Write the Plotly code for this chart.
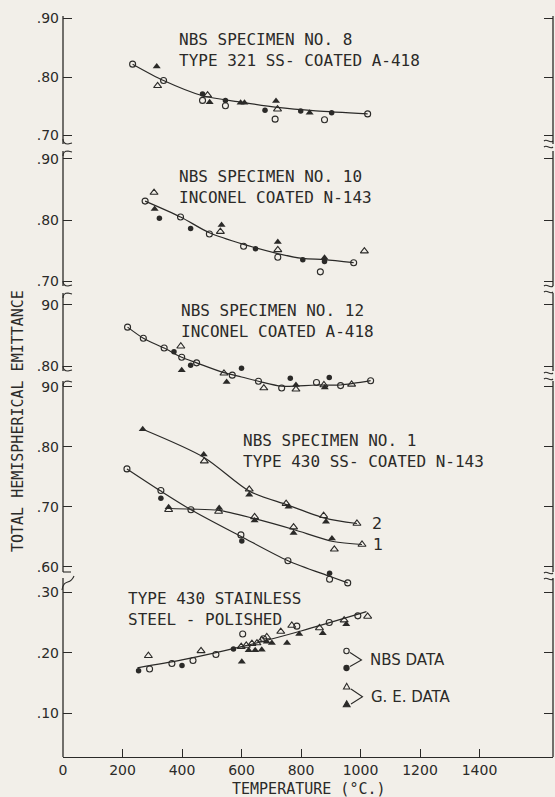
import plotly.graph_objects as go

INK = "#2b2a28"
BG = "#f2efe9"
MONO = "DejaVu Sans Mono"
SANS = "DejaVu Sans"

# ---------------- temperature axis ----------------
temp_ticks = [0, 200, 400, 600, 800, 1000, 1200, 1400]
temp_tick_text = ["0", "200", "400", "600", "800", "1000", "1200", "1400"]

# ---------------- NBS specimen No. 8 : Type 321 SS - coated A-418 ----------------
s8_nbs_open_t = [234, 338, 469, 546, 713, 879, 1024]
s8_nbs_open_e = [0.822, 0.794, 0.760, 0.751, 0.728, 0.727, 0.737]
s8_nbs_fill_t = [469, 546, 679, 799, 903]
s8_nbs_fill_e = [0.771, 0.760, 0.743, 0.742, 0.739]
s8_ge_open_t = [318, 486, 721]
s8_ge_open_e = [0.785, 0.769, 0.745]
s8_ge_fill_t = [315, 493, 597, 610, 716, 829]
s8_ge_fill_e = [0.818, 0.757, 0.756, 0.756, 0.759, 0.739]
s8_curve_t = [234, 338, 469, 600, 720, 850, 1024]
s8_curve_e = [0.822, 0.794, 0.768, 0.757, 0.748, 0.742, 0.737]

# ---------------- NBS specimen No. 10 : Inconel coated N-143 ----------------
s10_nbs_open_t = [276, 395, 492, 607, 722, 865, 977]
s10_nbs_open_e = [0.831, 0.805, 0.777, 0.757, 0.739, 0.715, 0.730]
s10_nbs_fill_t = [324, 429, 647, 806, 879]
s10_nbs_fill_e = [0.803, 0.786, 0.753, 0.735, 0.732]
s10_ge_open_t = [306, 529, 722, 1013]
s10_ge_open_e = [0.845, 0.781, 0.751, 0.749]
s10_ge_fill_t = [308, 533, 722, 879]
s10_ge_fill_e = [0.818, 0.792, 0.764, 0.738]
s10_curve_t = [276, 395, 492, 607, 722, 806, 879, 977]
s10_curve_e = [0.831, 0.805, 0.779, 0.760, 0.745, 0.737, 0.735, 0.730]

# ---------------- NBS specimen No. 12 : Inconel coated A-418 ----------------
s12_nbs_open_t = [217, 270, 340, 399, 449, 569, 657, 735, 852, 933, 1034]
s12_nbs_open_e = [0.864, 0.846, 0.830, 0.815, 0.806, 0.786, 0.776, 0.765, 0.774, 0.769, 0.777]
s12_nbs_fill_t = [373, 429, 600, 764, 895]
s12_nbs_fill_e = [0.824, 0.802, 0.797, 0.781, 0.782]
s12_ge_open_t = [396, 541, 675, 783, 877, 970]
s12_ge_open_e = [0.833, 0.789, 0.765, 0.763, 0.770, 0.771]
s12_ge_fill_t = [399, 550, 783, 880]
s12_ge_fill_e = [0.794, 0.775, 0.770, 0.766]
s12_curve_t = [217, 270, 340, 399, 449, 541, 600, 657, 735, 852, 933, 1034]
s12_curve_e = [0.864, 0.846, 0.830, 0.815, 0.806, 0.790, 0.783, 0.776, 0.768, 0.770, 0.770, 0.777]

# ---------------- NBS specimen No. 1 : Type 430 SS - coated N-143 ----------------
s1_nbs_open_t = [215, 329, 430, 598, 756, 896, 957]
s1_nbs_open_e = [0.763, 0.727, 0.695, 0.653, 0.610, 0.579, 0.573]
s1_nbs_fill_t = [329, 601, 896]
s1_nbs_fill_e = [0.714, 0.643, 0.589]
s1_ge_open_t = [475, 626, 750, 876, 988, 355, 523, 644, 775, 912, 1005]
s1_ge_open_e = [0.776, 0.729, 0.705, 0.685, 0.672, 0.695, 0.692, 0.683, 0.666, 0.629, 0.637]
s1_ge_fill_t = [268, 473, 626, 758, 884, 355, 525, 644, 775, 904]
s1_ge_fill_e = [0.829, 0.787, 0.720, 0.700, 0.675, 0.699, 0.698, 0.677, 0.656, 0.647]
s1_curve2_t = [268, 474, 626, 754, 880, 988]
s1_curve2_e = [0.829, 0.782, 0.726, 0.703, 0.681, 0.672]
s1_curve1_t = [355, 430, 524, 644, 775, 908, 1005]
s1_curve1_e = [0.697, 0.696, 0.694, 0.680, 0.662, 0.642, 0.637]
s1_nbs_curve_t = [215, 329, 430, 600, 756, 896, 957]
s1_nbs_curve_e = [0.763, 0.726, 0.695, 0.650, 0.610, 0.584, 0.573]

# ---------------- Type 430 stainless steel - polished ----------------
ss_nbs_open_t = [291, 366, 437, 514, 604, 674, 786, 895, 991]
ss_nbs_open_e = [0.173, 0.182, 0.187, 0.197, 0.231, 0.223, 0.244, 0.250, 0.261]
ss_nbs_fill_t = [254, 400, 573]
ss_nbs_fill_e = [0.170, 0.179, 0.206]
ss_ge_open_t = [287, 464, 599, 616, 635, 652, 668, 685, 732, 769, 862, 945, 1024]
ss_ge_open_e = [0.195, 0.203, 0.210, 0.212, 0.215, 0.216, 0.221, 0.226, 0.235, 0.245, 0.241, 0.254, 0.260]
ss_ge_fill_t = [601, 624, 646, 668, 685, 702, 753, 794, 873, 952]
ss_ge_fill_e = [0.185, 0.204, 0.204, 0.205, 0.218, 0.216, 0.216, 0.231, 0.232, 0.247]
ss_curve_t = [250, 400, 600, 800, 1020]
ss_curve_e = [0.175, 0.188, 0.210, 0.236, 0.268]

# ---------------- frame geometry (pixels) ----------------
FIG_W, FIG_H = 555, 797
L, R, T, B = 63, 553, 16, 757
W, H = R - L, B - T


def pp(px, py):
    """pixel position -> paper fraction"""
    return (px - L) / W, (B - py) / H


def dom(top, bottom):
    return [(B - bottom) / H, (B - top) / H]


# each panel: plotting domain, value range, and the drawn stretch of the frame ("seg")
panels = [
    dict(name="y", top=16, bottom=146, seg=(16, 144), rng=[0.6821, 0.9043],
         tv=[0.70, 0.80, 0.90], tt=[".70", ".80", ".90"],
         series=[(s8_nbs_open_t, s8_nbs_open_e, "no"), (s8_nbs_fill_t, s8_nbs_fill_e, "nf"),
                 (s8_ge_open_t, s8_ge_open_e, "go"), (s8_ge_fill_t, s8_ge_fill_e, "gf")],
         curves=[(s8_curve_t, s8_curve_e)],
         label="NBS SPECIMEN NO. 8<br>TYPE 321 SS- COATED A-418", lab_xy=(177, 50)),
    dict(name="y2", top=148, bottom=284, seg=(151, 286), rng=[0.6951, 0.9180],
         tv=[0.70, 0.80, 0.90], tt=[".70", ".80", ".90"],
         series=[(s10_nbs_open_t, s10_nbs_open_e, "no"), (s10_nbs_fill_t, s10_nbs_fill_e, "nf"),
                 (s10_ge_open_t, s10_ge_open_e, "go"), (s10_ge_fill_t, s10_ge_fill_e, "gf")],
         curves=[(s10_curve_t, s10_curve_e)],
         label="NBS SPECIMEN NO. 10<br>INCONEL COATED N-143", lab_xy=(177, 187)),
    dict(name="y3", top=288, bottom=392, seg=(293, 371), rng=[0.7586, 0.9276],
         tv=[0.80, 0.90], tt=[".80", "90"],
         series=[(s12_nbs_open_t, s12_nbs_open_e, "no"), (s12_nbs_fill_t, s12_nbs_fill_e, "nf"),
                 (s12_ge_open_t, s12_ge_open_e, "go"), (s12_ge_fill_t, s12_ge_fill_e, "gf")],
         curves=[(s12_curve_t, s12_curve_e)],
         label="NBS SPECIMEN NO. 12<br>INCONEL COATED A-418", lab_xy=(179, 321)),
    dict(name="y4", top=380, bottom=586, seg=(381, 572), rng=[0.5678, 0.9112],
         tv=[0.60, 0.70, 0.80, 0.90], tt=[".60", ".70", ".80", "90"],
         series=[(s1_nbs_open_t, s1_nbs_open_e, "no"), (s1_nbs_fill_t, s1_nbs_fill_e, "nf"),
                 (s1_ge_open_t, s1_ge_open_e, "go"), (s1_ge_fill_t, s1_ge_fill_e, "gf")],
         curves=[(s1_curve2_t, s1_curve2_e), (s1_curve1_t, s1_curve1_e),
                 (s1_nbs_curve_t, s1_nbs_curve_e)],
         label="NBS SPECIMEN NO. 1<br>TYPE 430 SS- COATED N-143", lab_xy=(241, 451)),
    dict(name="y5", top=576, bottom=757, seg=(578, 757), rng=[0.0273, 0.3270],
         tv=[0.10, 0.20, 0.30], tt=[".10", ".20", ".30"],
         series=[(ss_nbs_open_t, ss_nbs_open_e, "no"), (ss_nbs_fill_t, ss_nbs_fill_e, "nf"),
                 (ss_ge_open_t, ss_ge_open_e, "go"), (ss_ge_fill_t, ss_ge_fill_e, "gf")],
         curves=[(ss_curve_t, ss_curve_e)],
         label="TYPE 430 STAINLESS<br>STEEL - POLISHED", lab_xy=(126, 609)),
]

marker_styles = {
    "no": dict(symbol="circle-open", size=6, line=dict(width=1.1, color=INK), color=INK),
    "nf": dict(symbol="circle", size=5.5, color=INK, line=dict(width=0)),
    "go": dict(symbol="triangle-up-open", size=7, line=dict(width=1.1, color=INK), color=INK),
    "gf": dict(symbol="triangle-up", size=7, color=INK, line=dict(width=0)),
}

fig = go.Figure()
layout_axes = {}
annotations = []
shapes = []


def line_shape(p0, p1, width=1.3):
    x0, y0 = pp(*p0)
    x1, y1 = pp(*p1)
    return dict(type="line", xref="paper", yref="paper", x0=x0, y0=y0, x1=x1, y1=y1,
                line=dict(color=INK, width=width))


def path_shape(points, closed=False, fill=None, width=1.1):
    d = ""
    for i, (px, py) in enumerate(points):
        x, y = pp(px, py)
        d += ("M" if i == 0 else "L") + f"{x:.5f},{y:.5f} "
    if closed:
        d += "Z"
    s = dict(type="path", path=d, xref="paper", yref="paper",
             line=dict(color=INK, width=width))
    if fill:
        s["fillcolor"] = fill
    return s


def curve_shape(cmds, width=1.1):
    d = ""
    for op, pts in cmds:
        d += op + " ".join(f"{pp(a, b)[0]:.5f},{pp(a, b)[1]:.5f}" for a, b in pts) + " "
    return dict(type="path", path=d, xref="paper", yref="paper",
                line=dict(color=INK, width=width))


def circle_shape(cx, cy, r, filled):
    x0, y0 = pp(cx - r, cy + r)
    x1, y1 = pp(cx + r, cy - r)
    return dict(type="circle", xref="paper", yref="paper", x0=x0, y0=y0, x1=x1, y1=y1,
                line=dict(color=INK, width=1.1), fillcolor=INK if filled else BG)


for p in panels:
    for ct, ce in p["curves"]:
        fig.add_trace(go.Scatter(x=ct, y=ce, xaxis="x", yaxis=p["name"], mode="lines",
                                 line=dict(color=INK, width=1.2, shape="spline", smoothing=0.8),
                                 hoverinfo="skip", showlegend=False))
    for st, se, kind in p["series"]:
        fig.add_trace(go.Scatter(x=st, y=se, xaxis="x", yaxis=p["name"], mode="markers",
                                 marker=marker_styles[kind], cliponaxis=False, showlegend=False))
    key = "yaxis" if p["name"] == "y" else "yaxis" + p["name"][1:]
    layout_axes[key] = dict(
        domain=dom(p["top"], p["bottom"]), range=p["rng"], anchor="x",
        tickmode="array", tickvals=p["tv"], ticktext=p["tt"],
        ticks="inside", ticklen=9, tickwidth=1.2, tickcolor=INK,
        showline=False, mirror="ticks",
        showgrid=False, zeroline=False, ticklabelstandoff=3,
        tickfont=dict(family=SANS, size=14, color=INK),
    )
    # broken frame: left and right stretches for this panel
    st_top, st_bot = p["seg"]
    shapes.append(line_shape((L, st_top), (L, st_bot)))
    shapes.append(line_shape((R, st_top), (R, st_bot)))
    lx, ly = p["lab_xy"]
    ax, ay = pp(lx, ly)
    annotations.append(dict(text=p["label"], x=ax, y=ay, xref="paper", yref="paper",
                            xanchor="left", yanchor="middle", align="left", showarrow=False,
                            font=dict(family=MONO, size=16, color=INK)))

# curve numbers for specimen No. 1
for txt, (cx, cy) in [("2", (377, 523)), ("1", (378, 544))]:
    ax, ay = pp(cx, cy)
    annotations.append(dict(text=txt, x=ax, y=ay, xref="paper", yref="paper",
                            xanchor="center", yanchor="middle", showarrow=False,
                            font=dict(family=SANS, size=16, color=INK)))

# axis titles
ax, ay = pp(18, 421)
annotations.append(dict(text="TOTAL HEMISPHERICAL EMITTANCE", x=ax, y=ay, xref="paper", yref="paper",
                        textangle=-90, showarrow=False, xanchor="center", yanchor="middle",
                        font=dict(family=MONO, size=15, color=INK)))
ax, ay = pp(309, 789)
annotations.append(dict(text="TEMPERATURE (°C.)", x=ax, y=ay, xref="paper", yref="paper",
                        showarrow=False, xanchor="center", yanchor="middle",
                        font=dict(family=MONO, size=15, color=INK)))

# legend text
for txt, (lx, ly) in [("NBS DATA", (368, 660)), ("G. E. DATA", (369, 697))]:
    ax, ay = pp(lx, ly)
    annotations.append(dict(text=txt, x=ax, y=ay, xref="paper", yref="paper",
                            showarrow=False, xanchor="left", yanchor="middle",
                            font=dict(family=SANS, size=15, color=INK)))

# legend glyphs and brackets
shapes.append(circle_shape(346.5, 651, 2.7, False))
shapes.append(circle_shape(346.5, 668, 2.6, True))
shapes.append(path_shape([(350, 652.5), (361.5, 660), (350, 666.5)]))
shapes.append(path_shape([(346.7, 683.3), (343.5, 689), (349.9, 689)], closed=True, fill=BG))
shapes.append(path_shape([(346.7, 700.8), (343.3, 706.8), (350.1, 706.8)], closed=True, fill=INK))
shapes.append(path_shape([(351, 689), (362.5, 696.7), (351, 704)]))

# scale-break marks on the left side: foot at the end of each upper stretch,
# hook at the start of the next one
for fy in [144, 286, 371]:
    shapes.append(curve_shape([("M", [(L, fy - 5)]), ("Q", [(L, fy), (L + 5, fy)]),
                               ("L", [(L + 9, fy - 1)])]))
for hy in [151, 293, 381]:
    shapes.append(curve_shape([("M", [(L, hy + 5)]), ("Q", [(L, hy), (L + 5, hy)]),
                               ("L", [(L + 9, hy + 1)])]))
shapes.append(path_shape([(L, 572), (L + 8, 572)]))
shapes.append(curve_shape([("M", [(L - 1, 590)]), ("C", [(L + 1, 578), (L + 7, 586), (L + 11, 576)])]))

# scale-break marks on the right side
for ry in [141, 147, 286, 292, 373, 379, 573, 579]:
    shapes.append(curve_shape([("M", [(R - 9, ry)]), ("C", [(R - 6, ry - 3), (R - 3, ry + 3), (R, ry)])]))

fig.update_layout(
    width=FIG_W, height=FIG_H, autosize=False,
    margin=dict(l=L, r=FIG_W - R, t=T, b=FIG_H - B, pad=0),
    paper_bgcolor=BG, plot_bgcolor="rgba(0,0,0,0)",
    showlegend=False,
    xaxis=dict(domain=[0, 1], range=[0, 1647], anchor="y5",
               tickmode="array", tickvals=temp_ticks, ticktext=temp_tick_text,
               ticks="inside", ticklen=8, tickwidth=1.2, tickcolor=INK,
               showline=True, linecolor=INK, linewidth=1.3,
               showgrid=False, zeroline=False,
               tickfont=dict(family=SANS, size=14, color=INK)),
    xaxis2=dict(domain=[0, 1], range=[0, 1647], anchor="y", side="top",
                tickmode="array", tickvals=temp_ticks[1:],
                ticks="inside", ticklen=8, tickwidth=1.2, tickcolor=INK,
                showticklabels=False, showline=True, linecolor=INK, linewidth=1.3,
                showgrid=False, zeroline=False),
    annotations=annotations,
    shapes=shapes,
    **layout_axes,
)

fig.write_html("out.html")
